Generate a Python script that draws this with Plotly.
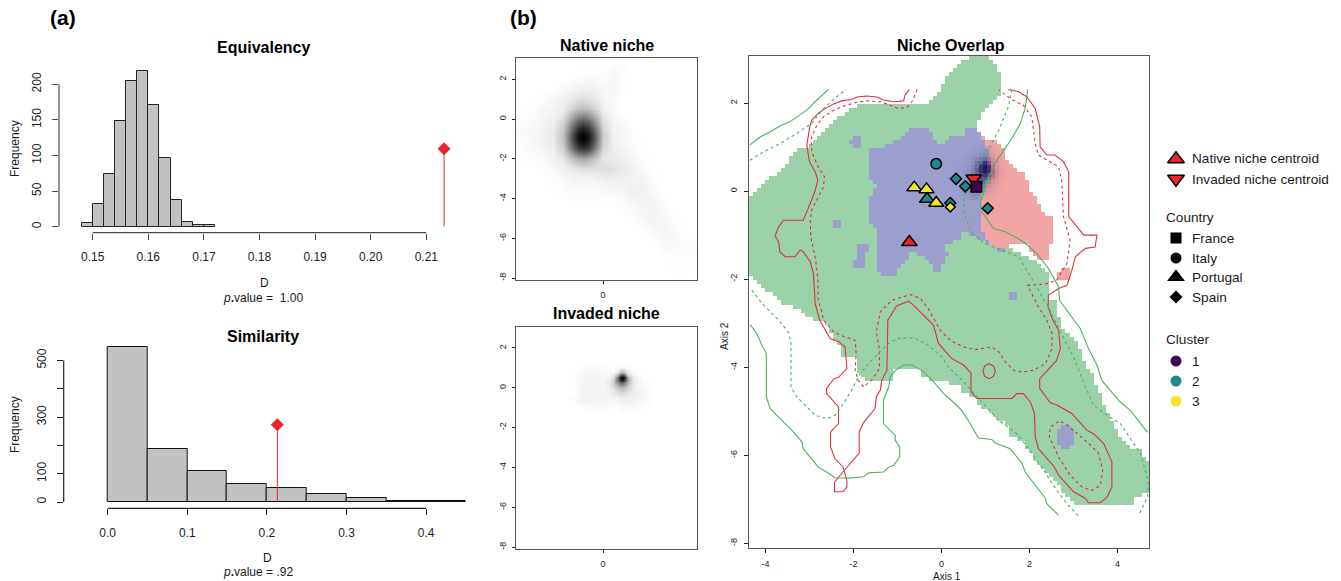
import numpy as np
import plotly.graph_objects as go

W, H = 1341, 581

# ---------- histograms ----------
eq_bin_left = [0.148, 0.150, 0.152, 0.154, 0.156, 0.158, 0.160, 0.162, 0.164, 0.166, 0.168, 0.170]
eq_counts = [5, 32, 74, 149, 204, 219, 171, 96, 38, 7, 2, 3]
eq_observed = 0.2132
eq_marker_y = 109.5
eq_xticks = [0.15, 0.16, 0.17, 0.18, 0.19, 0.20, 0.21]
eq_xlabels = ["0.15", "0.16", "0.17", "0.18", "0.19", "0.20", "0.21"]
eq_yticks = [0, 50, 100, 150, 200]

si_bin_left = [0.0, 0.05, 0.10, 0.15, 0.20, 0.25, 0.30, 0.35, 0.40]
si_counts = [546, 188, 109, 65, 51, 27, 13, 5, 2]
si_observed = 0.2131
si_marker_y = 273
si_xticks = [0.0, 0.1, 0.2, 0.3, 0.4]
si_xlabels = ["0.0", "0.1", "0.2", "0.3", "0.4"]
si_yticks = [0, 100, 200, 300, 400, 500]
si_ylabels = ["0", "100", "", "300", "", "500"]

# ---------- native niche density (darkness, percent) ----------
nat_x = [-4.4, -3.5, -3, -2.5, -2, -1.75, -1.5, -1.25, -1, -0.75, -0.5, -0.25, 0, 0.5, 1, 1.5, 2, 2.5, 3, 3.5, 4, 4.7]
nat_y = [3, 2.5, 2, 1.5, 1, 0.5, 0.25, 0, -0.25, -0.5, -0.75, -1, -1.25, -1.5, -1.75, -2, -2.5, -3, -3.5, -4, -4.5, -5, -5.5, -6, -6.5, -7, -8]
nat_z = [
    [0, 0, 0, 0, 0, 0, 0, 0, 0, 0, 0, 0, 0, 0, 0, 0, 0, 0, 0, 0, 0, 0],
    [0, 0, 0, 0, 0, 0, 0, 0, 0, 0, 0, 0, 0, 2, 2, 0, 0, 0, 0, 0, 0, 0],
    [0, 0, 0, 0, 0, 0, 1, 1, 2, 2, 2, 1, 1, 3, 1, 0, 0, 0, 0, 0, 0, 0],
    [0, 0, 0, 0, 2, 3, 4, 6, 6, 6, 5, 4, 3, 3, 1, 0, 0, 0, 0, 0, 0, 0],
    [0, 0, 1, 3, 6, 7, 10, 12, 13, 12, 10, 7, 4, 2, 0, 0, 0, 0, 0, 0, 0, 0],
    [0, 1, 3, 4, 8, 13, 19, 24, 26, 24, 19, 13, 6, 2, 0, 0, 0, 0, 0, 0, 0, 0],
    [0, 2, 3, 5, 11, 20, 30, 39, 42, 39, 30, 20, 9, 3, 0, 0, 0, 0, 0, 0, 0, 0],
    [0, 2, 4, 6, 14, 27, 42, 53, 58, 53, 42, 27, 11, 4, 1, 0, 0, 0, 0, 0, 0, 0],
    [0, 2, 4, 7, 18, 35, 53, 68, 74, 68, 53, 35, 14, 5, 2, 0, 0, 0, 0, 0, 0, 0],
    [1, 3, 5, 8, 21, 41, 63, 81, 88, 81, 63, 41, 16, 5, 3, 0, 0, 0, 0, 0, 0, 0],
    [1, 3, 5, 8, 24, 46, 71, 90, 98, 90, 71, 46, 18, 6, 3, 1, 0, 0, 0, 0, 0, 0],
    [1, 3, 5, 8, 24, 47, 72, 92, 100, 92, 72, 47, 18, 6, 3, 1, 0, 0, 0, 0, 0, 0],
    [0, 3, 5, 8, 22, 43, 66, 85, 92, 85, 66, 43, 17, 6, 3, 1, 0, 0, 0, 0, 0, 0],
    [0, 2, 4, 7, 19, 37, 56, 72, 78, 72, 56, 37, 15, 7, 4, 2, 0, 0, 0, 0, 0, 0],
    [0, 2, 3, 6, 14, 26, 40, 51, 55, 51, 40, 26, 11, 8, 5, 2, 0, 0, 0, 0, 0, 0],
    [0, 1, 2, 5, 9, 16, 24, 30, 33, 30, 24, 17, 10, 9, 6, 3, 1, 0, 0, 0, 0, 0],
    [0, 0, 1, 2, 5, 7, 9, 11, 12, 12, 12, 12, 14, 12, 8, 5, 2, 0, 0, 0, 0, 0],
    [0, 0, 0, 1, 2, 3, 4, 4, 4, 4, 4, 5, 6, 7, 6, 5, 4, 1, 0, 0, 0, 0],
    [0, 0, 0, 0, 1, 2, 2, 2, 2, 2, 2, 2, 3, 3, 4, 6, 5, 2, 0, 0, 0, 0],
    [0, 0, 0, 0, 0, 0, 1, 1, 1, 1, 1, 1, 1, 1, 2, 4, 5, 4, 1, 0, 0, 0],
    [0, 0, 0, 0, 0, 0, 0, 0, 0, 0, 0, 0, 0, 0, 1, 2, 4, 4, 2, 0, 0, 0],
    [0, 0, 0, 0, 0, 0, 0, 0, 0, 0, 0, 0, 0, 0, 0, 1, 3, 4, 3, 1, 0, 0],
    [0, 0, 0, 0, 0, 0, 0, 0, 0, 0, 0, 0, 0, 0, 0, 0, 1, 3, 4, 2, 0, 0],
    [0, 0, 0, 0, 0, 0, 0, 0, 0, 0, 0, 0, 0, 0, 0, 0, 0, 1, 3, 3, 1, 0],
    [0, 0, 0, 0, 0, 0, 0, 0, 0, 0, 0, 0, 0, 0, 0, 0, 0, 0, 2, 2, 2, 1],
    [0, 0, 0, 0, 0, 0, 0, 0, 0, 0, 0, 0, 0, 0, 0, 0, 0, 0, 0, 1, 1, 0],
    [0, 0, 0, 0, 0, 0, 0, 0, 0, 0, 0, 0, 0, 0, 0, 0, 0, 0, 0, 0, 0, 0],
]

# ---------- invaded niche density (darkness, percent) ----------
inv_x = [-1.5, -1, -0.5, 0, 0.25, 0.5, 0.625, 0.75, 0.875, 1, 1.125, 1.25, 1.5, 2, 2.5]
inv_y = [1.25, 1, 0.75, 0.625, 0.5, 0.375, 0.25, 0.125, 0, -0.25, -0.5, -0.75, -1, -1.25]
inv_z = [
    [0, 0, 0, 0, 0, 0, 0, 0, 0, 0, 0, 0, 0, 0, 0],
    [0, 1, 2, 1, 0, 0, 1, 2, 3, 3, 2, 1, 0, 0, 0],
    [0, 3, 4, 2, 2, 3, 6, 12, 25, 30, 18, 8, 2, 0, 0],
    [0, 3, 4, 2, 3, 8, 20, 42, 70, 78, 45, 16, 4, 0, 0],
    [0, 3, 4, 3, 4, 14, 34, 62, 95, 100, 72, 28, 6, 0, 0],
    [0, 3, 4, 3, 6, 18, 38, 60, 82, 85, 60, 28, 7, 0, 0],
    [0, 4, 4, 3, 7, 18, 32, 46, 58, 58, 44, 24, 8, 1, 0],
    [0, 4, 4, 3, 7, 16, 26, 34, 40, 40, 32, 20, 8, 1, 0],
    [0, 4, 4, 3, 6, 13, 19, 24, 28, 28, 23, 15, 8, 2, 0],
    [0, 5, 4, 4, 4, 8, 11, 13, 15, 15, 13, 10, 7, 3, 0],
    [1, 5, 4, 4, 4, 4, 5, 6, 7, 7, 7, 7, 6, 3, 0],
    [0, 4, 4, 4, 3, 3, 3, 3, 4, 4, 4, 4, 4, 2, 0],
    [0, 0, 2, 2, 1, 0, 0, 0, 2, 2, 2, 2, 2, 0, 0],
    [0, 0, 0, 0, 0, 0, 0, 0, 0, 0, 0, 0, 0, 0, 0],
]

# ---------- overlap regions: outlines, axis units ----------
green_region = [
    (0.73, 3.07), (1.08, 3.07), (1.33, 2.70), (1.33, 2.18), (1.06, 1.95), (0.92, 1.73), (0.81, 1.61), (0.81, 1.27),
    (1.0, 0.5), (1.2, -1.2), (1.56, -1.30), (2.02, -1.53), (2.24, -1.64), (2.47, -1.98), (2.47, -2.48), (2.63, -2.52),
    (2.70, -3.05), (2.99, -3.32), (3.10, -3.55), (3.26, -3.89), (3.45, -4.25), (3.60, -4.64), (3.72, -4.93),
    (3.83, -5.16), (3.99, -5.50), (4.17, -5.73), (4.33, -5.89), (4.51, -5.89), (4.72, -6.23), (4.72, -6.86),
    (4.56, -6.86), (4.56, -6.98), (4.35, -6.98), (4.35, -7.09), (2.99, -7.09), (2.81, -6.86), (2.54, -6.57),
    (2.31, -6.34), (2.08, -6.05), (1.90, -5.73), (1.56, -5.55), (1.56, -5.36), (1.26, -5.16), (1.06, -4.98),
    (0.81, -4.86), (0.81, -4.68), (0.47, -4.57), (0.47, -4.43), (0.15, -4.43), (0.15, -4.30), (-0.18, -4.30),
    (-0.48, -4.18), (-0.48, -4.07), (-1.13, -4.07), (-1.13, -4.30), (-1.66, -4.30), (-1.92, -4.07), (-1.96, -3.77),
    (-2.27, -3.73), (-2.30, -3.50), (-2.53, -3.23), (-2.61, -3.0), (-3.02, -2.86), (-3.17, -2.74), (-3.40, -2.59),
    (-3.63, -2.52), (-3.89, -2.33), (-4.12, -2.17), (-4.27, -1.98), (-4.38, -1.86), (-4.38, -0.19), (-4.23, -0.05),
    (-4.12, 0.14), (-4.0, 0.27), (-3.74, 0.40), (-3.55, 0.59), (-3.44, 0.74), (-3.29, 0.93), (-3.06, 0.97),
    (-2.87, 1.16), (-2.68, 1.35), (-2.49, 1.54), (-2.30, 1.70), (-2.11, 1.84), (-1.92, 1.95), (-0.26, 1.95),
    (-0.26, 2.07), (-0.11, 2.17), (0.08, 2.52), (0.27, 2.75), (0.54, 2.98),
]
blue_region = [
    (-0.73, 1.39), (-0.28, 1.39), (-0.18, 1.23), (-0.07, 1.05), (0.08, 1.05), (0.16, 1.27), (0.54, 1.27), (0.54, 1.39),
    (0.80, 1.39), (0.89, 1.27), (0.99, 1.05), (1.09, 0.82), (1.09, 0.33), (0.95, 0.02), (0.88, -0.28), (0.92, -0.81),
    (0.99, -1.08), (1.18, -1.08), (1.18, -1.19), (1.52, -1.30), (1.30, -1.40), (1.07, -1.19), (0.73, -1.04),
    (0.54, -0.85), (0.42, -1.08), (0.20, -1.19), (-0.03, -1.30), (0.16, -1.42), (-0.03, -1.83), (-0.18, -1.83),
    (-0.26, -1.64), (-0.41, -1.49), (-0.67, -1.38), (-0.83, -1.64), (-1.02, -1.83), (-1.02, -1.96), (-1.37, -1.96),
    (-1.47, -1.72), (-1.47, -1.08), (-1.51, -0.89), (-1.64, -0.70), (-1.64, -0.17), (-1.47, 0.14), (-1.64, 0.29),
    (-1.64, 0.93), (-1.20, 1.05), (-0.83, 1.23),
]
blue_patches = [
    [(-2.0, 1.27), (-1.83, 1.27), (-1.83, 0.95), (-2.0, 0.95), (-2.0, 1.10), (-2.09, 1.10)],
    [(-2.47, -0.62), (-2.29, -0.62), (-2.29, -0.85), (-2.47, -0.85)],
    [(-1.91, -1.19), (-1.66, -1.19), (-1.66, -1.40), (-1.75, -1.40), (-1.75, -1.73), (-2.0, -1.73), (-2.0, -1.53), (-1.91, -1.53)],
    [(1.54, -2.31), (1.71, -2.31), (1.71, -2.52), (1.54, -2.52)],
    [(2.73, -5.32), (2.91, -5.32), (2.91, -5.43), (2.98, -5.43), (2.98, -5.77), (2.91, -5.77), (2.91, -5.87),
     (2.72, -5.87), (2.72, -5.77), (2.64, -5.77), (2.64, -5.43), (2.73, -5.43)],
]
red_region = [
    (0.89, 1.27), (1.37, 1.05), (1.45, 0.74), (1.64, 0.52), (1.90, 0.36), (2.02, 0.02), (2.20, -0.28), (2.36, -0.51),
    (2.55, -0.62), (2.55, -1.19), (2.45, -1.19), (2.45, -1.49), (2.36, -1.61), (2.20, -1.53), (2.02, -1.42),
    (2.02, -1.19), (1.60, -1.19), (1.52, -1.30), (1.18, -1.30), (0.99, -1.08), (0.92, -0.81), (0.88, -0.28),
    (1.09, 0.33), (1.09, 0.82), (0.99, 1.05),
]
red_patch = [(2.62, -1.87), (2.73, -1.73), (2.85, -1.73), (2.91, -1.98), (2.66, -2.06)]

# dark hot-spot (percent opacity) over the shared cells
hot_x = [0.44, 0.53, 0.62, 0.71, 0.80, 0.89, 0.98, 1.07, 1.16, 1.25, 1.34, 1.43]
hot_y = [1.00, 0.91, 0.82, 0.73, 0.64, 0.55, 0.46, 0.37, 0.28, 0.19, 0.10, 0.01, -0.08, -0.17]
hot_z = [
    [0, 0, 0, 0, 2, 3, 4, 4, 3, 1, 0, 0],
    [0, 0, 0, 2, 4, 6, 8, 7, 4, 2, 0, 0],
    [0, 0, 2, 4, 8, 12, 16, 13, 7, 3, 1, 0],
    [0, 2, 4, 8, 16, 26, 36, 26, 12, 5, 2, 0],
    [2, 3, 7, 14, 30, 52, 70, 48, 20, 8, 3, 1],
    [2, 4, 8, 18, 42, 75, 90, 72, 28, 10, 4, 1],
    [3, 5, 10, 20, 42, 72, 88, 75, 35, 12, 4, 1],
    [3, 5, 10, 22, 40, 60, 70, 55, 30, 12, 4, 1],
    [3, 6, 12, 25, 40, 50, 50, 35, 20, 10, 3, 1],
    [3, 6, 12, 25, 38, 42, 34, 22, 12, 7, 2, 0],
    [3, 6, 12, 22, 32, 32, 22, 13, 8, 4, 1, 0],
    [2, 5, 10, 18, 25, 22, 13, 8, 5, 2, 1, 0],
    [2, 4, 8, 13, 16, 13, 7, 4, 2, 1, 0, 0],
    [1, 2, 5, 8, 9, 6, 3, 1, 1, 0, 0, 0],
]

# ---------- contours ----------
red_solid = [
    (-0.73, 2.31), (-0.83, 2.18), (-0.86, 2.05), (-1.09, 2.03), (-1.32, 2.07), (-1.47, 2.14), (-1.70, 2.16), (-1.92, 2.14),
    (-2.04, 2.08), (-2.27, 2.05), (-2.45, 1.98), (-2.64, 1.88), (-2.80, 1.77), (-2.95, 1.61), (-3.00, 1.42), (-3.06, 1.05),
    (-3.00, 0.67), (-2.87, 0.44), (-2.81, 0.25), (-2.87, 0.02), (-2.95, -0.20), (-3.06, -0.47), (-3.14, -0.66), (-3.59, -0.66),
    (-3.70, -0.81), (-3.78, -1.02), (-3.70, -1.15), (-3.67, -1.38), (-3.55, -1.49), (-3.33, -1.49), (-3.21, -1.34), (-3.14, -1.38),
    (-2.98, -1.61), (-2.91, -1.87), (-2.89, -2.40), (-2.87, -2.55), (-2.77, -2.93), (-2.53, -3.35), (-2.34, -3.42), (-2.19, -3.54),
    (-2.15, -4.03), (-2.34, -4.23), (-2.45, -4.27), (-2.61, -4.48), (-2.61, -4.60), (-2.34, -4.90), (-2.34, -5.28), (-2.52, -5.47),
    (-2.52, -5.81), (-2.42, -6.08), (-2.24, -6.26), (-2.15, -6.57), (-2.15, -6.72), (-2.24, -6.83), (-2.43, -6.83), (-2.43, -6.61),
    (-2.24, -6.38), (-1.87, -5.95), (-1.87, -5.47), (-1.76, -5.24), (-1.51, -4.94), (-1.48, -4.67), (-1.39, -4.52), (-1.36, -4.30),
    (-1.24, -4.07), (-1.22, -2.93), (-1.02, -2.61), (-0.75, -2.50), (-0.64, -2.59), (-0.18, -3.05), (-0.07, -3.46), (0.23, -3.80),
    (0.50, -3.95), (0.67, -4.13), (0.67, -4.56), (0.80, -4.71), (1.60, -4.71), (1.71, -4.60), (1.86, -4.60), (2.02, -4.79),
    (2.11, -5.05), (2.13, -5.58), (2.20, -5.85), (2.56, -6.26), (2.66, -6.45), (3.00, -6.83), (3.27, -6.98), (3.34, -7.08),
    (3.61, -7.08), (3.76, -6.95), (3.87, -6.72), (3.87, -6.15), (3.68, -5.73), (3.45, -5.51), (3.30, -5.43), (2.96, -5.05),
    (2.62, -4.86), (2.47, -4.81), (2.23, -4.48), (2.23, -4.26), (2.61, -3.85), (2.70, -3.58), (2.66, -3.16), (2.51, -2.89),
    (2.42, -2.63), (2.43, -2.36), (2.66, -2.21), (2.85, -2.14), (2.96, -1.80), (3.04, -1.49), (3.27, -1.30), (3.49, -1.27),
    (3.53, -1.00), (3.23, -1.00), (2.89, -0.58), (2.89, 0.44), (2.77, 0.67), (2.58, 0.82), (2.39, 0.82), (2.24, 1.01),
    (2.23, 1.46), (2.13, 1.88), (1.94, 2.14), (1.75, 2.26), (1.52, 2.31),
]
red_small_ring = [(1.08, -3.92), (1.18, -3.97), (1.22, -4.09), (1.18, -4.21), (1.08, -4.26), (0.98, -4.21), (0.94, -4.09), (0.98, -3.97), (1.08, -3.92)]
red_dashed = [
    (-0.55, 2.31), (-0.67, 2.03), (-0.79, 1.90), (-0.98, 1.88), (-1.17, 1.95), (-1.39, 2.03), (-1.70, 2.05), (-1.92, 2.02),
    (-2.23, 1.93), (-2.45, 1.84), (-2.68, 1.69), (-2.83, 1.50), (-2.95, 1.23), (-2.95, 0.89), (-2.80, 0.55), (-2.66, 0.33),
    (-2.68, 0.10), (-2.80, -0.13), (-2.95, -0.43), (-2.98, -0.66), (-2.97, -1.04), (-2.87, -1.49), (-2.81, -1.95), (-2.80, -2.48),
    (-2.73, -2.70), (-2.68, -2.93), (-2.45, -3.20), (-2.30, -3.27), (-1.96, -3.39), (-1.94, -3.69), (-1.96, -4.07), (-1.89, -4.30),
    (-1.77, -4.45), (-1.58, -4.28), (-1.41, -4.03), (-1.41, -3.61), (-1.48, -3.20), (-1.39, -2.74), (-1.13, -2.48), (-0.71, -2.35),
    (-0.48, -2.44), (-0.30, -2.67), (-0.03, -3.16), (0.20, -3.39), (0.50, -3.54), (0.76, -3.60), (1.14, -3.54), (1.30, -3.65),
    (1.45, -3.88), (1.64, -4.07), (1.83, -4.11), (2.09, -4.07), (2.36, -3.92), (2.51, -3.58), (2.51, -3.23), (2.39, -2.93),
    (2.20, -2.63), (2.01, -2.25), (1.96, -2.14), (2.36, -2.11), (2.62, -2.02), (2.85, -1.64), (2.92, -1.11), (2.77, -0.58),
    (2.73, 0.25), (2.66, 0.55), (2.39, 0.70), (2.20, 0.82), (2.13, 1.08), (2.05, 1.69), (1.86, 1.95), (1.60, 2.08), (1.30, 2.30),
]
red_dashed_loop = [
    (2.66, -5.23), (2.47, -5.36), (2.45, -5.58), (2.66, -6.04), (2.92, -6.45), (3.19, -6.72), (3.42, -6.80), (3.61, -6.68),
    (3.66, -6.34), (3.57, -5.96), (3.34, -5.73), (3.00, -5.43), (2.81, -5.27), (2.66, -5.23),
]
green_solid_a = [(-4.35, 1.05), (-4.12, 1.23), (-3.89, 1.35), (-3.67, 1.48), (-3.44, 1.58), (-3.06, 1.84), (-2.83, 2.07), (-2.57, 2.31)]
green_solid_b = [
    (1.96, 2.31), (1.90, 1.88), (1.79, 1.54), (1.60, 1.20), (1.26, 0.70), (1.07, 0.33), (0.88, -0.28), (0.92, -0.47), (1.18, -0.85),
    (1.45, -0.92), (1.86, -1.15), (2.17, -1.42), (2.43, -1.76), (2.66, -2.17), (2.68, -2.48), (2.92, -2.82), (3.15, -3.12),
    (3.34, -3.58), (3.53, -3.95), (3.64, -4.30), (4.06, -4.79), (4.29, -4.98), (4.68, -5.48),
]
green_solid_c = [
    (-4.35, -3.03), (-4.20, -3.23), (-4.08, -3.50), (-3.98, -3.69), (-3.98, -4.67), (-3.89, -4.94), (-3.67, -5.17), (-3.40, -5.43),
    (-3.17, -5.70), (-3.14, -5.85), (-2.80, -6.27), (-2.61, -6.38), (-2.42, -6.51), (-2.08, -6.52), (-1.77, -6.49), (-1.66, -6.40),
    (-1.32, -6.38), (-1.20, -6.27), (-1.09, -6.23), (-0.95, -6.04), (-0.95, -5.81), (-1.05, -5.66), (-1.05, -5.55), (-1.32, -5.28),
    (-1.32, -4.75), (-1.20, -4.45), (-1.17, -4.23), (-1.05, -4.07), (-0.86, -3.95), (-0.67, -3.95), (-0.41, -4.10), (-0.18, -4.33),
    (-0.03, -4.51), (0.05, -4.60), (0.31, -4.83), (0.46, -4.98), (0.65, -5.28), (0.84, -5.61), (1.14, -5.64), (1.22, -5.72),
    (1.56, -5.85), (1.83, -6.19), (1.90, -6.38), (2.36, -6.98), (2.39, -7.10), (2.66, -7.36),
]
green_dashed_a = [(-4.35, 0.70), (-4.05, 0.89), (-3.67, 1.08), (-3.29, 1.31), (-2.95, 1.54), (-2.68, 1.88), (-2.42, 2.11), (-2.17, 2.31)]
green_dashed_b = [
    (1.60, 2.31), (1.52, 1.92), (1.30, 1.39), (1.03, 0.86), (0.77, 0.48), (0.54, 0.02), (0.50, -0.28), (0.54, -0.58), (0.69, -0.96),
    (0.99, -1.19), (1.37, -1.34), (1.75, -1.49), (1.98, -1.87), (2.17, -2.17), (2.32, -2.48), (2.39, -2.55), (2.70, -3.20),
    (3.00, -3.77), (3.30, -4.52), (3.45, -4.86), (3.76, -5.09), (4.06, -5.28), (4.29, -5.62), (4.52, -5.96), (4.70, -6.61),
    (4.68, -6.95), (4.48, -7.36),
]
green_dashed_c = [
    (-4.31, -2.25), (-4.08, -2.55), (-3.70, -2.93), (-3.48, -3.20), (-3.42, -3.46), (-3.42, -4.45), (-3.29, -4.67), (-2.87, -5.09),
    (-2.61, -5.17), (-2.42, -5.09), (-2.23, -4.83), (-2.04, -4.52), (-1.85, -4.14), (-1.55, -3.80), (-1.20, -3.46), (-1.02, -3.35),
    (-0.64, -3.33), (-0.30, -3.50), (-0.03, -3.73), (0.01, -3.77), (0.16, -4.0), (0.50, -4.33), (0.88, -4.75), (1.26, -5.17),
    (1.71, -5.51), (2.01, -5.89), (2.32, -6.34), (2.62, -6.80), (2.85, -7.10), (3.11, -7.38),
]

# ---------- population points ----------
france_x, france_y = [0.79], [0.10]
italy_x, italy_y = [-0.12], [0.62]
portugal_yellow_x, portugal_yellow_y = [-0.62, -0.34, -0.12], [0.08, 0.04, -0.27]
portugal_teal_x, portugal_teal_y = [-0.33], [-0.18]
spain_teal_x, spain_teal_y = [0.33, 0.54, 0.20, 1.05], [0.28, 0.11, -0.27, -0.39]
spain_yellow_x, spain_yellow_y = [0.20], [-0.36]
native_centroid = ([-0.73], [-1.16])
invaded_centroid = ([0.73], [0.29])

RED = "#E8262C"
TEAL = "#1F8A8C"
YELLOW = "#F2E52B"
PURPLE = "#440154"
GREY_BAR = "#C1C3C2"
AX = "#4a4a4a"
FONT = "Liberation Sans"


def dx(p0, p1):
    return [p0 / W, p1 / W]


def dy(top, bottom):
    return [1 - bottom / H, 1 - top / H]


def inside(poly, X, Y):
    px = np.array([p[0] for p in poly])
    py = np.array([p[1] for p in poly])
    res = np.zeros(X.shape, dtype=bool)
    j = len(px) - 1
    for i in range(len(px)):
        cond = (py[i] > Y) != (py[j] > Y)
        xcross = (px[j] - px[i]) * (Y - py[i]) / (py[j] - py[i] + 1e-12) + px[i]
        res ^= cond & (X < xcross)
        j = i
    return res


XMIN, XMAX, YMIN, YMAX = -4.38, 4.72, -8.1, 3.07
CELL = 0.091
cx = XMIN + CELL * (np.arange(100) + 0.5)
cy = YMAX - CELL * (np.arange(123) + 0.5)
GX, GY = np.meshgrid(cx, cy)
classes = np.full(GX.shape, np.nan)
classes[inside(green_region, GX, GY)] = 1
classes[inside(blue_region, GX, GY)] = 2
for patch in blue_patches:
    classes[inside(patch, GX, GY)] = 2
classes[inside(red_region, GX, GY)] = 3
classes[inside(red_patch, GX, GY)] = 3

fig = go.Figure()


# ---- histograms ----
def hist(bin_left, counts, width, obs, my, xa, ya, bar_line):
    fig.add_trace(go.Bar(x=bin_left, y=counts, width=width, offset=0, xaxis=xa, yaxis=ya,
                         marker=dict(color=GREY_BAR, line=dict(color=bar_line, width=1)), showlegend=False))
    fig.add_trace(go.Scatter(x=[obs, obs], y=[0, my], mode="lines", xaxis=xa, yaxis=ya,
                             line=dict(color=RED, width=1), showlegend=False))
    fig.add_trace(go.Scatter(x=[obs], y=[my], mode="markers", xaxis=xa, yaxis=ya,
                             marker=dict(symbol="diamond", size=10, color=RED), showlegend=False))


hist(eq_bin_left, eq_counts, 0.002, eq_observed, eq_marker_y, "x", "y", "#222222")
hist(si_bin_left, si_counts, 0.05, si_observed, si_marker_y, "x2", "y2", "#111111")

# ---- density panels ----
GREYSCALE = [[0, "#ffffff"], [1, "#000000"]]
fig.add_trace(go.Heatmap(x=nat_x, y=nat_y, z=nat_z, zmin=0, zmax=100, zsmooth="best", colorscale=GREYSCALE,
                         showscale=False, xaxis="x3", yaxis="y3"))
fig.add_trace(go.Heatmap(x=inv_x, y=inv_y, z=inv_z, zmin=0, zmax=100, zsmooth="best", colorscale=GREYSCALE,
                         showscale=False, xaxis="x4", yaxis="y4"))

# ---- overlap ----
G, B, R = "#9BD1A9", "#9C9FCE", "#F2A3A3"
fig.add_trace(go.Heatmap(x=cx, y=cy, z=classes, zmin=0.5, zmax=3.5, showscale=False, xaxis="x5", yaxis="y5",
                         colorscale=[[0, G], [1 / 3, G], [1 / 3, B], [2 / 3, B], [2 / 3, R], [1, R]]))
fig.add_trace(go.Heatmap(x=hot_x, y=hot_y, z=hot_z, zmin=0, zmax=100, showscale=False, xaxis="x5", yaxis="y5",
                         colorscale=[[0, "rgba(20,10,80,0)"], [1, "rgba(20,10,80,1)"]]))


def contour(points, color, dash=None):
    fig.add_trace(go.Scatter(x=[p[0] for p in points], y=[p[1] for p in points], mode="lines", xaxis="x5", yaxis="y5",
                             line=dict(color=color, width=1.1, dash=dash), showlegend=False))


CRED, CGREEN = "#D8343A", "#49B264"
DASH = "3px,3px"
contour(red_solid, CRED)
contour(red_small_ring, CRED)
contour(red_dashed, CRED, DASH)
contour(red_dashed_loop, CRED, DASH)
contour(green_solid_a, CGREEN)
contour(green_solid_b, CGREEN)
contour(green_solid_c, CGREEN)
contour(green_dashed_a, CGREEN, DASH)
contour(green_dashed_b, CGREEN, DASH)
contour(green_dashed_c, CGREEN, DASH)


def pts(x, y, symbol, size, color, xa="x5", ya="y5", outline=1.5):
    fig.add_trace(go.Scatter(x=x, y=y, mode="markers", xaxis=xa, yaxis=ya, showlegend=False,
                             marker=dict(symbol=symbol, size=size, color=color, opacity=1,
                                         line=dict(color="black", width=outline))))


pts(spain_teal_x, spain_teal_y, "diamond", 8.5, TEAL)
pts(spain_yellow_x, spain_yellow_y, "diamond", 7.5, YELLOW)
pts(portugal_teal_x, portugal_teal_y, "triangle-up", 13, TEAL)
pts(portugal_yellow_x, portugal_yellow_y, "triangle-up", 13, YELLOW)
pts(italy_x, italy_y, "circle", 10.5, TEAL)
pts(*native_centroid, "triangle-up", 13.5, RED)
pts(*invaded_centroid, "triangle-down", 13.5, RED)
pts(france_x, france_y, "square", 10.5, PURPLE)

# ---- legend keys ----
leg_rows = [0, 1, 3.95, 4.95, 5.9, 6.9, 10.1, 11.1, 12.1]
leg_symbols = ["triangle-up", "triangle-down", "square", "circle", "triangle-up", "diamond", "circle", "circle", "circle"]
leg_colors = [RED, RED, "black", "black", "black", "black", PURPLE, TEAL, YELLOW]
leg_sizes = [14.5, 14.5, 11, 11, 15.5, 10, 11, 11, 11]
leg_lines = [1.5, 1.5, 0, 0, 0, 0, 0, 0, 0]
fig.add_trace(go.Scatter(x=[0.5] * len(leg_rows), y=leg_rows, mode="markers", xaxis="x6", yaxis="y6", showlegend=False,
                         marker=dict(symbol=leg_symbols, size=leg_sizes, color=leg_colors, opacity=1,
                                     line=dict(color="black", width=leg_lines))))

# ---- text ----
anns = []


def text(px, py, s, size=12, bold=False, anchor="center", angle=0, color="#1a1a1a"):
    anns.append(dict(x=px / W, y=1 - py / H, xref="paper", yref="paper", text=f"<b>{s}</b>" if bold else s,
                     showarrow=False, xanchor=anchor, yanchor="middle", textangle=angle,
                     font=dict(family=FONT, size=size, color=color)))


text(63, 18, "(a)", 21, True, color="black")
text(523, 18, "(b)", 21, True, color="black")
text(263, 48, "Equivalency", 16, True, color="black")
text(263, 337, "Similarity", 16, True, color="black")
text(607, 45, "Native niche", 16, True, color="black")
text(606, 313, "Invaded niche", 16, True, color="black")
text(951, 45, "Niche Overlap", 16, True, color="black")
text(15, 149, "Frequency", 12, angle=-90)
text(15, 425, "Frequency", 12, angle=-90)
text(264, 283, "D", 12)
text(267, 558, "D", 12)
text(263, 298, "<i>p</i><b>.</b>value =&nbsp; 1.00", 12)
text(258, 572, "<i>p</i><b>.</b>value = .92", 12)
text(947, 576, "Axis 1", 10)
text(724, 336, "Axis 2", 10, angle=-90)
for py, s in [(159, "Native niche centroid"), (179, "Invaded niche centroid"), (238, "France"), (258, "Italy"),
              (277, "Portugal"), (297, "Spain"), (361, "1"), (381, "2"), (401, "3")]:
    text(1189.5, py, s, 13.6, anchor="left")
text(1163.5, 217, "Country", 13.6, anchor="left")
text(1163.5, 339, "Cluster", 13.6, anchor="left")


def rstyle(domain, rng, vals, labels=None, ticklen=6, size=12, color=AX, standoff=4, angle=None, **kw):
    d = dict(domain=domain, range=rng, tickmode="array", tickvals=vals,
             ticktext=labels if labels is not None else [str(v) for v in vals],
             ticks="outside", ticklen=ticklen, tickwidth=1, tickcolor=color, showgrid=False, zeroline=False,
             tickfont=dict(family=FONT, size=size, color="#222222"), ticklabelstandoff=standoff)
    if angle is not None:
        d["tickangle"] = angle
    d.update(kw)
    return d


layout_axes = dict(
    xaxis=rstyle(dx(59, 470), [0.14394, 0.21786], eq_xticks, eq_xlabels, anchor="y", showline=False, standoff=7),
    yaxis=rstyle(dy(60, 232.7), [-8.43, 234], eq_yticks, angle=-90, anchor="x", showline=False, standoff=6),
    xaxis2=rstyle(dx(63.7, 470), [-0.0553, 0.4552], si_xticks, si_xlabels, color="#222222", anchor="y2", showline=False, standoff=7),
    yaxis2=rstyle(dy(340, 508.3), [-22.2, 572], si_yticks, si_ylabels, color="#222222", angle=-90, anchor="x2",
                  showline=False, standoff=6),
)
frame = dict(showline=True, mirror=True, linecolor="#555555", linewidth=1.2)
layout_axes.update(
    xaxis3=rstyle(dx(516, 697), [XMIN, XMAX], [0], ["0"], ticklen=3, size=9, anchor="y3", standoff=3, color="#222222", **frame),
    yaxis3=rstyle(dy(58, 280), [YMIN, YMAX], [2, 0, -2, -4, -6, -8], ticklen=3, size=9, angle=-90, anchor="x3", standoff=2,
                  color="#222222", **frame),
    xaxis4=rstyle(dx(516, 697), [XMIN, XMAX], [0], ["0"], ticklen=3, size=9, anchor="y4", standoff=3, color="#222222", **frame),
    yaxis4=rstyle(dy(326.7, 549), [YMIN, YMAX], [2, 0, -2, -4, -6, -8], ticklen=3, size=9, angle=-90, anchor="x4", standoff=2,
                  color="#222222", **frame),
    xaxis5=rstyle(dx(748.7, 1149.3), [XMIN, XMAX], [-4, -2, 0, 2, 4], ticklen=4, size=9, anchor="y5", standoff=3, color="#222222", **frame),
    yaxis5=rstyle(dy(56, 547.7), [YMIN, YMAX], [2, 0, -2, -4, -6, -8], ticklen=4, size=9, angle=-90, anchor="x5", standoff=3,
                  color="#222222", **frame),
    xaxis6=dict(domain=dx(1166, 1186), range=[0, 1], visible=False, anchor="y6"),
    yaxis6=dict(domain=dy(139, 421), range=[13.1, -1], visible=False, anchor="x6"),
)

axis_line = dict(type="line", layer="above")
shapes = [
    dict(axis_line, xref="x", yref="y domain", x0=eq_xticks[0], x1=eq_xticks[-1], y0=0, y1=0, line=dict(color=AX, width=1.2)),
    dict(axis_line, xref="x domain", yref="y", x0=0, x1=0, y0=eq_yticks[0], y1=eq_yticks[-1], line=dict(color=AX, width=1.2)),
    dict(axis_line, xref="x2", yref="y2 domain", x0=si_xticks[0], x1=si_xticks[-1], y0=0, y1=0, line=dict(color="#222222", width=1.2)),
    dict(axis_line, xref="x2 domain", yref="y2", x0=0, x1=0, y0=si_yticks[0], y1=si_yticks[-1], line=dict(color="#222222", width=1.2)),
]

fig.update_layout(width=W, height=H, margin=dict(l=0, r=0, t=0, b=0), autosize=False, paper_bgcolor="white",
                  plot_bgcolor="white", showlegend=False, annotations=anns, shapes=shapes, barmode="overlay",
                  bargap=0, font=dict(family=FONT), **layout_axes)

fig.write_html("out.html", config={"displayModeBar": False},
               post_script="document.body.style.margin='0';document.body.style.overflow='hidden';")
